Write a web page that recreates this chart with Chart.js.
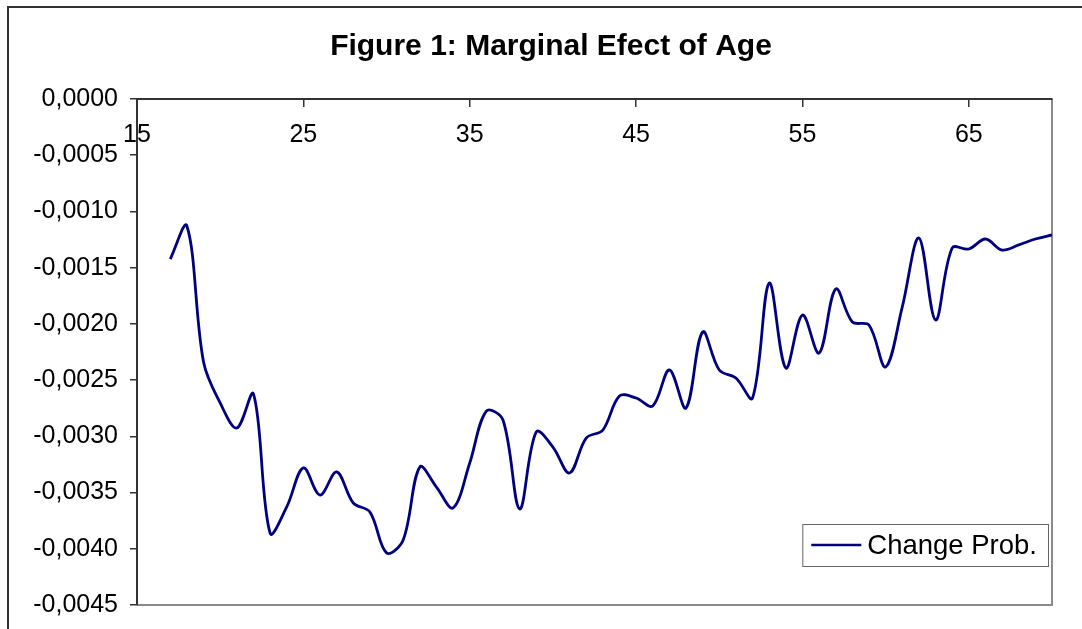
<!DOCTYPE html>
<html>
<head>
<meta charset="utf-8">
<title>Figure 1: Marginal Efect of Age</title>
<script src="https://cdn.jsdelivr.net/npm/chart.js@4.4.1/dist/chart.umd.min.js"></script>
<style>
  html, body { margin: 0; padding: 0; background: #fff; }
  #grafico { display: block; }
</style>
</head>
<body>
<canvas id="grafico" width="1082" height="629"></canvas>
<script>
// Data
const idades = [17, 18, 19, 20, 21, 22, 23, 24, 25, 26, 27, 28, 29, 30, 31, 32, 33, 34, 35, 36,
  37, 38, 39, 40, 41, 42, 43, 44, 45, 46, 47, 48, 49, 50, 51, 52, 53, 54, 55, 56,
  57, 58, 59, 60, 61, 62, 63, 64, 65, 66, 67, 68, 69, 70];
const changeProb = [-0.001423, -0.001129, -0.002339, -0.002703, -0.002926, -0.002623, -0.003861, -0.003628, -0.003281, -0.003522,
  -0.003317, -0.003593, -0.003673, -0.004037, -0.003922, -0.003273, -0.003451, -0.003637, -0.003237, -0.002775,
  -0.002855, -0.003646, -0.002961, -0.003095, -0.003326, -0.003015, -0.002944, -0.002641, -0.002659, -0.002730,
  -0.002410, -0.002748, -0.002072, -0.002410, -0.002481, -0.002659, -0.001636, -0.002392, -0.001921, -0.002259,
  -0.001690, -0.001983, -0.002010, -0.002383, -0.001850, -0.001236, -0.001965, -0.001325, -0.001334, -0.001245,
  -0.001343, -0.001298, -0.001245, -0.001209];
const xTicks = [15, 25, 35, 45, 55, 65];
const yTicks = [0, -0.0005, -0.001, -0.0015, -0.002, -0.0025, -0.003, -0.0035, -0.004, -0.0045];

const FONTE = "'Liberation Sans', Arial, sans-serif";
const PAD_ESQ = 20;

// Outer frame and grey plot-area edges (Excel style)
const molduraPlugin = {
  id: "moldura",
  beforeDraw(chart) {
    const ctx = chart.ctx;
    const a = chart.chartArea;
    ctx.save();
    ctx.strokeStyle = "#333";
    ctx.lineWidth = 2;
    ctx.beginPath();
    ctx.moveTo(8, chart.height + 5);
    ctx.lineTo(8, 7);
    ctx.lineTo(chart.width + 5, 7);
    ctx.stroke();

    ctx.strokeStyle = "#8a8a8a";
    ctx.lineWidth = 2;
    ctx.beginPath();
    ctx.moveTo(a.left, a.bottom);
    ctx.lineTo(a.right, a.bottom);
    ctx.lineTo(a.right, a.top);
    ctx.stroke();
    ctx.restore();
  }
};

// Legend box drawn inside the plot area, lower right
const legendaPlugin = {
  id: "legendaInterna",
  afterDraw(chart) {
    const ctx = chart.ctx;
    const a = chart.chartArea;
    const ds = chart.data.datasets[0];
    ctx.save();
    ctx.font = "27.5px " + FONTE;
    const larguraTexto = ctx.measureText(ds.label).width;
    const amostra = 50;
    const w = 9 + amostra + 6 + larguraTexto + 11;
    const h = 42;
    const x = a.right - 4 - w;
    const y = a.bottom - 39 - h;
    ctx.fillStyle = "#fff";
    ctx.fillRect(x, y, w, h);
    ctx.strokeStyle = "#666";
    ctx.lineWidth = 1;
    ctx.strokeRect(x + 0.5, y + 0.5, w, h);
    ctx.strokeStyle = ds.borderColor;
    ctx.lineWidth = 2.5;
    ctx.beginPath();
    ctx.moveTo(x + 9, y + h / 2);
    ctx.lineTo(x + 9 + amostra, y + h / 2);
    ctx.stroke();
    ctx.fillStyle = "#000";
    ctx.textBaseline = "middle";
    ctx.fillText(ds.label, x + 9 + amostra + 6, y + h / 2 + 1);
    ctx.restore();
  }
};

function formatarValor(v) {
  if (Math.abs(v) < 1e-12) return "0,0000";
  return v.toFixed(4).replace(".", ",");
}

const ctx = document.getElementById("grafico").getContext("2d");
new Chart(ctx, {
  type: "line",
  data: {
    datasets: [{
      label: "Change Prob.",
      data: idades.map((idade, i) => ({ x: idade, y: changeProb[i] })),
      borderColor: "#000080",
      backgroundColor: "#000080",
      borderWidth: 2.8,
      pointRadius: 0,
      tension: 0.35,
      fill: false
    }]
  },
  options: {
    responsive: false,
    animation: false,
    layout: { padding: { left: PAD_ESQ, top: 7, right: 0, bottom: 24 } },
    plugins: {
      legend: { display: false },
      tooltip: { enabled: false },
      title: {
        display: true,
        text: "Figure 1: Marginal Efect of Age",
        color: "#000",
        font: { family: FONTE, size: 30, weight: "bold" },
        padding: { top: 22, bottom: 34 }
      }
    },
    scales: {
      x: {
        type: "linear",
        position: { y: 0 },
        min: 15,
        max: 70,
        afterBuildTicks: scale => { scale.ticks = xTicks.map(v => ({ value: v })); },
        grid: { drawOnChartArea: false, drawTicks: true, tickLength: 7, color: "#333", lineWidth: 1.5 },
        border: { display: true, color: "#333", width: 2 },
        ticks: {
          color: "#000",
          font: { family: FONTE, size: 25 },
          padding: 14,
          maxRotation: 0,
          autoSkip: false,
          callback: v => String(v)
        }
      },
      y: {
        type: "linear",
        position: "left",
        min: -0.0045,
        max: 0,
        afterBuildTicks: scale => { scale.ticks = yTicks.map(v => ({ value: v })); },
        afterFit: scale => {
          scale.width = 137 - PAD_ESQ;
          scale.paddingTop = 0;
          scale.paddingBottom = 0;
        },
        grid: { drawOnChartArea: false, drawTicks: true, tickLength: 7, color: "#333", lineWidth: 1.5 },
        border: { display: true, color: "#333", width: 2 },
        ticks: {
          color: "#000",
          font: { family: FONTE, size: 25 },
          padding: 12,
          autoSkip: false,
          callback: v => formatarValor(v)
        }
      },
      // empty strip on the right, keeps the plot edge where the original has it
      margemDireita: {
        type: "linear",
        position: "right",
        grid: { display: false },
        border: { display: false },
        ticks: { display: false },
        afterFit: scale => { scale.width = 30; }
      }
    }
  },
  plugins: [molduraPlugin, legendaPlugin]
});
</script>
</body>
</html>
